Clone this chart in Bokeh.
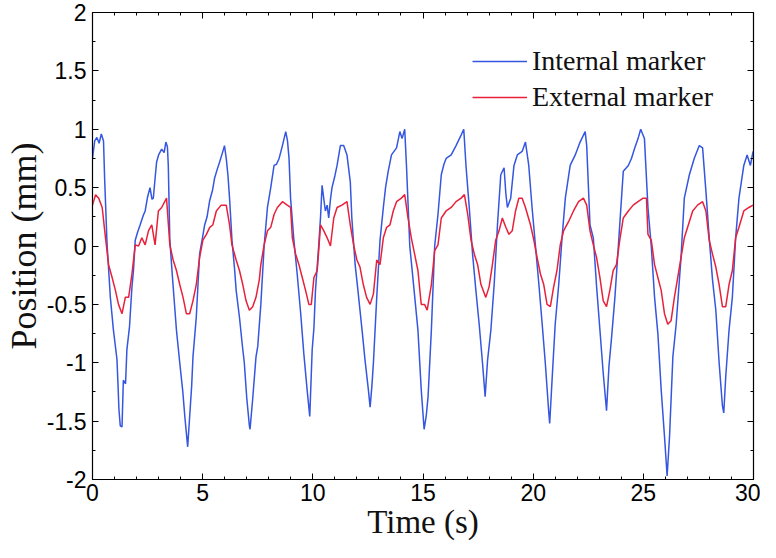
from bokeh.plotting import figure
from bokeh.models import Range1d, LinearAxis, FixedTicker, Legend, CustomLabelingPolicy
from bokeh.embed import file_html
from bokeh.resources import INLINE

# ---------------- data ----------------
t_internal = [0.0, 0.1, 0.2, 0.3, 0.4, 0.5, 0.55, 0.66, 0.81, 0.95, 1.11, 1.16, 1.2, 1.26, 1.34, 1.4, 1.5,
              1.56, 1.68, 1.79, 1.86, 1.94, 2.05, 2.16, 2.3, 2.39, 2.5, 2.61, 2.7, 2.76, 2.85, 2.91, 3.0,
              3.14, 3.25, 3.33, 3.4, 3.44, 3.51, 3.63, 3.81, 3.96, 4.1, 4.19, 4.32, 4.41, 4.5, 4.56, 4.71,
              4.86, 5.0, 5.09, 5.2, 5.32, 5.45, 5.54, 5.65, 5.77, 5.9, 5.99, 6.07, 6.15, 6.22, 6.33, 6.45,
              6.52, 6.67, 6.8, 6.89, 7.0, 7.12, 7.15, 7.27, 7.42, 7.5, 7.64, 7.79, 7.94, 8.09, 8.24, 8.35,
              8.47, 8.62, 8.77, 8.85, 8.92, 8.99, 9.14, 9.29, 9.45, 9.59, 9.74, 9.86, 9.97, 10.05, 10.12,
              10.27, 10.35, 10.42, 10.5, 10.57, 10.65, 10.72, 10.8, 10.87, 11.0, 11.1, 11.25, 11.4, 11.55,
              11.7, 11.77, 11.92, 12.03, 12.14, 12.25, 12.37, 12.52, 12.6, 12.68, 12.75, 12.9, 13.05, 13.2,
              13.3, 13.42, 13.57, 13.8, 13.95, 14.05, 14.17, 14.25, 14.4, 14.55, 14.77, 14.92, 15.05, 15.15,
              15.23, 15.38, 15.53, 15.68, 15.83, 15.95, 16.05, 16.28, 16.5, 16.73, 16.85, 16.95, 17.1,
              17.25, 17.4, 17.55, 17.7, 17.82, 17.93, 18.08, 18.23, 18.38, 18.53, 18.68, 18.76, 18.83,
              18.98, 19.13, 19.28, 19.5, 19.65, 19.8, 19.95, 20.1, 20.26, 20.41, 20.55, 20.71, 20.75,
              20.86, 21.0, 21.16, 21.31, 21.46, 21.68, 21.91, 22.13, 22.36, 22.43, 22.58, 22.73, 22.88,
              23.03, 23.18, 23.33, 23.44, 23.56, 23.71, 23.87, 24.09, 24.32, 24.46, 24.61, 24.76, 24.88,
              25.05, 25.21, 25.36, 25.51, 25.66, 25.81, 25.96, 26.08, 26.19, 26.34, 26.49, 26.71, 26.86,
              27.09, 27.31, 27.54, 27.69, 27.84, 27.99, 28.14, 28.29, 28.44, 28.59, 28.65, 28.74, 28.89,
              29.04, 29.19, 29.34, 29.56, 29.71, 29.86, 29.98]
internal_mm = [0.75, 0.9, 0.93, 0.88, 0.96, 0.9, 0.58, 0.02, -0.44, -0.72, -0.97, -1.2, -1.4, -1.54, -1.55,
               -1.15, -1.18, -0.89, -0.69, -0.35, -0.21, 0.05, 0.12, 0.18, 0.26, 0.3, 0.42, 0.5, 0.4, 0.41,
               0.6, 0.72, 0.78, 0.83, 0.8, 0.89, 0.85, 0.69, 0.05, -0.27, -0.72, -1.0, -1.25, -1.46, -1.72,
               -1.46, -1.2, -0.95, -0.61, -0.07, 0.08, 0.18, 0.25, 0.39, 0.48, 0.58, 0.65, 0.72, 0.8, 0.86,
               0.75, 0.6, 0.41, 0.05, -0.2, -0.38, -0.61, -0.85, -1.0, -1.3, -1.54, -1.57, -1.31, -0.95,
               -0.86, -0.5, 0.0, 0.33, 0.5, 0.69, 0.7, 0.75, 0.86, 0.98, 0.9, 0.75, 0.41, 0.05, -0.24,
               -0.58, -0.92, -1.23, -1.46, -0.89, -0.7, -0.38, 0.01, 0.25, 0.52, 0.4, 0.3, 0.35, 0.24, 0.4,
               0.5, 0.6, 0.69, 0.86, 0.86, 0.78, 0.55, 0.24, -0.16, -0.35, -0.55, -0.75, -0.98, -1.23,
               -1.38, -1.2, -1.0, -0.44, 0.05, 0.33, 0.5, 0.64, 0.78, 0.84, 0.98, 0.92, 1.0, 0.69, 0.0,
               -0.29, -0.72, -1.23, -1.57, -1.45, -1.29, -0.72, 0.0, 0.27, 0.61, 0.7, 0.75, 0.78, 0.86,
               0.95, 1.0, 0.69, 0.33, -0.07, -0.38, -0.67, -1.0, -1.29, -0.98, -0.72, -0.33, 0.18, 0.61,
               0.67, 0.45, 0.33, 0.41, 0.69, 0.78, 0.81, 0.89, 0.69, 0.33, 0.01, -0.33, -0.67, -1.0, -1.43,
               -1.52, -1.14, -0.67, -0.33, 0.07, 0.41, 0.69, 0.78, 0.89, 0.98, 0.86, 0.18, 0.07, -0.35,
               -0.72, -1.09, -1.41, -1.03, -0.78, -0.44, 0.01, 0.64, 0.69, 0.75, 0.84, 0.92, 1.0, 0.92,
               0.33, 0.0, -0.44, -0.75, -1.23, -1.63, -1.97, -1.63, -0.95, -0.67, -0.1, 0.41, 0.61, 0.75,
               0.86, 0.84, 0.47, 0.07, -0.29, -0.55, -1.0, -1.37, -1.43, -1.12, -0.72, -0.44, 0.07, 0.41,
               0.69, 0.78, 0.69, 0.81]

t_external = [0.0, 0.14, 0.28, 0.44, 0.59, 0.73, 0.89, 1.04, 1.18, 1.34, 1.49, 1.64, 1.79, 1.94, 2.09,
              2.24, 2.39, 2.54, 2.69, 2.84, 2.99, 3.14, 3.36, 3.51, 3.66, 3.81, 3.96, 4.11, 4.26, 4.41,
              4.56, 4.71, 4.86, 5.01, 5.17, 5.32, 5.46, 5.62, 5.84, 6.07, 6.22, 6.33, 6.52, 6.67, 6.82,
              6.97, 7.12, 7.27, 7.42, 7.57, 7.64, 7.79, 7.94, 8.09, 8.24, 8.39, 8.62, 8.84, 8.99, 9.07,
              9.22, 9.37, 9.52, 9.67, 9.82, 9.93, 10.05, 10.2, 10.35, 10.5, 10.65, 10.8, 10.95, 11.1,
              11.32, 11.55, 11.7, 11.85, 12.0, 12.14, 12.29, 12.44, 12.6, 12.75, 12.9, 13.05, 13.2,
              13.35, 13.5, 13.65, 13.8, 14.02, 14.17, 14.32, 14.47, 14.62, 14.77, 14.92, 15.07, 15.19,
              15.38, 15.53, 15.68, 15.83, 16.05, 16.28, 16.5, 16.73, 16.88, 17.03, 17.18, 17.33, 17.48,
              17.63, 17.85, 18.0, 18.15, 18.3, 18.45, 18.6, 18.76, 18.9, 19.05, 19.2, 19.35, 19.5, 19.65,
              19.88, 20.03, 20.18, 20.33, 20.48, 20.63, 20.78, 20.93, 21.08, 21.23, 21.38, 21.61, 21.83,
              22.06, 22.28, 22.43, 22.58, 22.73, 22.88, 23.03, 23.18, 23.33, 23.48, 23.63, 23.78, 23.93,
              24.09, 24.32, 24.54, 24.76, 24.99, 25.14, 25.21, 25.36, 25.51, 25.66, 25.81, 25.96, 26.11,
              26.26, 26.41, 26.56, 26.71, 26.86, 27.01, 27.24, 27.46, 27.69, 27.84, 27.99, 28.14, 28.29,
              28.44, 28.59, 28.74, 28.89, 29.04, 29.19, 29.34, 29.56, 29.79, 29.98]
external_mm = [0.35, 0.44, 0.41, 0.33, 0.07, -0.16, -0.27, -0.38, -0.5, -0.58, -0.44, -0.44, -0.24, 0.01,
               0.0, 0.07, 0.01, 0.13, 0.18, 0.01, 0.3, 0.33, 0.41, 0.01, -0.12, -0.21, -0.33, -0.44, -0.58,
               -0.58, -0.47, -0.33, -0.1, 0.05, 0.1, 0.16, 0.18, 0.3, 0.35, 0.35, 0.18, 0.01, -0.12, -0.21,
               -0.33, -0.47, -0.55, -0.52, -0.44, -0.29, -0.16, 0.01, 0.13, 0.16, 0.27, 0.33, 0.38, 0.35,
               0.33, 0.07, -0.07, -0.16, -0.27, -0.38, -0.5, -0.5, -0.27, -0.21, 0.18, 0.13, 0.07, 0.0,
               0.24, 0.33, 0.35, 0.38, 0.18, 0.01, -0.12, -0.18, -0.33, -0.44, -0.5, -0.41, -0.12, -0.16,
               0.07, 0.16, 0.18, 0.3, 0.38, 0.41, 0.44, 0.24, 0.07, -0.07, -0.21, -0.5, -0.5, -0.55, -0.33,
               -0.04, 0.01, 0.24, 0.3, 0.33, 0.38, 0.41, 0.44, 0.27, 0.05, -0.07, -0.16, -0.33, -0.44,
               -0.35, -0.16, 0.05, 0.13, 0.24, 0.16, 0.1, 0.13, 0.3, 0.41, 0.41, 0.33, 0.18, 0.05, -0.1,
               -0.24, -0.33, -0.5, -0.52, -0.35, -0.21, 0.01, 0.13, 0.21, 0.3, 0.38, 0.41, 0.35, 0.13,
               0.01, -0.1, -0.27, -0.47, -0.52, -0.38, -0.21, -0.16, 0.05, 0.24, 0.3, 0.35, 0.38, 0.41,
               0.41, 0.1, 0.05, -0.16, -0.27, -0.38, -0.58, -0.67, -0.64, -0.44, -0.27, -0.1, 0.07, 0.16,
               0.3, 0.35, 0.38, 0.3, 0.05, -0.07, -0.18, -0.33, -0.52, -0.52, -0.33, -0.21, 0.07, 0.16,
               0.3, 0.33, 0.35]

x_ticks = [0, 5, 10, 15, 20, 25, 30]
x_tick_labels = ["0", "5", "10", "15", "20", "25", "30"]
y_ticks = [-2, -1.5, -1, -0.5, 0, 0.5, 1, 1.5, 2]
y_tick_labels = ["-2", "-1.5", "-1", "-0.5", "0", "0.5", "1", "1.5", "2"]
series_names = ["Internal marker", "External marker"]
series_colors = ["#3556e0", "#e8213a"]

# ---------------- figure ----------------
p = figure(width=760, height=542, output_backend="svg", toolbar_location=None,
           x_range=Range1d(0, 30), y_range=Range1d(-2, 2),
           x_axis_label="Time (s)", y_axis_label="Position (mm)")
p.min_border_left = 89
p.min_border_right = 7
p.min_border_top = 12
p.min_border_bottom = 60
p.background_fill_color = "white"
p.border_fill_color = "white"
p.xgrid.visible = False
p.ygrid.visible = False
p.outline_line_color = "black"
p.outline_line_width = 1.2

x_minor = [i for i in range(0, 31)]
y_minor = [i * 0.25 - 2 for i in range(17)]

def style_axis(ax, ticks, labels, minor, show_labels):
    ax.ticker = FixedTicker(ticks=ticks, minor_ticks=minor)
    ax.major_tick_in = 6
    ax.major_tick_out = 0
    ax.minor_tick_in = 3
    ax.minor_tick_out = 0
    ax.axis_line_color = "black"
    ax.major_tick_line_color = "black"
    ax.minor_tick_line_color = "black"
    if show_labels:
        ax.major_label_overrides = {float(t): l for t, l in zip(ticks, labels)}
        ax.major_label_text_font = "Liberation Sans"
        ax.major_label_text_font_size = "23px"
        ax.major_label_text_color = "black"
        ax.major_label_standoff = 4
        ax.axis_label_text_font = "Liberation Serif"
        ax.axis_label_text_font_style = "normal"
        ax.axis_label_text_color = "#111111"
        ax.axis_label_standoff = 0
    else:
        ax.major_label_policy = CustomLabelingPolicy(code="return new Set()")
        ax.major_label_text_font_size = "0px"
        ax.major_label_standoff = 0

style_axis(p.xaxis[0], x_ticks, x_tick_labels, x_minor, True)
style_axis(p.yaxis[0], y_ticks, y_tick_labels, y_minor, True)
p.xaxis[0].axis_label_text_font_size = "33px"
p.yaxis[0].axis_label_text_font_size = "36px"
p.yaxis[0].major_label_standoff = 6

top_ax = LinearAxis()
right_ax = LinearAxis()
style_axis(top_ax, x_ticks, x_tick_labels, x_minor, False)
style_axis(right_ax, y_ticks, y_tick_labels, y_minor, False)
p.add_layout(top_ax, "above")
p.add_layout(right_ax, "right")

r_int = p.line(t_internal, internal_mm, line_color=series_colors[0], line_width=1.5)
r_ext = p.line(t_external, external_mm, line_color=series_colors[1], line_width=1.5)

legend = Legend(items=[(series_names[0], [r_int]), (series_names[1], [r_ext])],
                location=(380, 364), border_line_color=None, background_fill_alpha=0,
                label_text_font="Liberation Serif", label_text_font_size="28px",
                label_text_color="#111111",
                glyph_width=55, glyph_height=36, label_height=36, spacing=0,
                padding=0, margin=0, label_standoff=5)
p.add_layout(legend)

open("out.html", "w").write(file_html(p, INLINE))
